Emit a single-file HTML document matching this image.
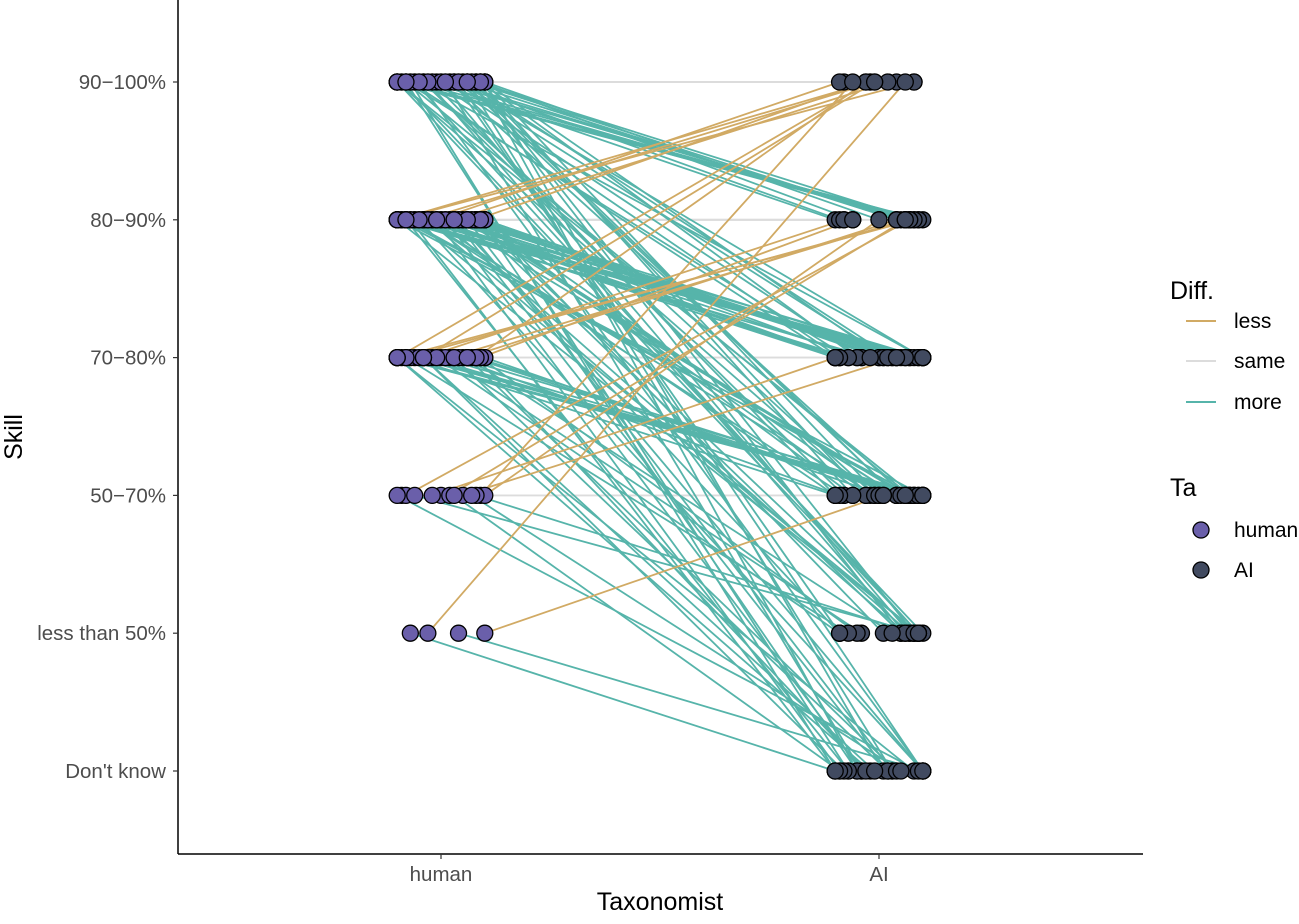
<!DOCTYPE html>
<html><head><meta charset="utf-8"><style>
body{margin:0;background:#fff;}
svg text{font-family:"Liberation Sans",sans-serif;}
</style></head><body>
<svg id="chart" width="1299" height="919" xmlns="http://www.w3.org/2000/svg">
<g id="lines"></g>
<g id="points"></g>
<g id="axes"></g>
</svg>
<script>
// Levels: 0=Don't know,1=less than 50%,2=50-70%,3=70-80%,4=80-90%,5=90-100%
const yLabels = ["Don't know","less than 50%","50\u221270%","70\u221280%","80\u221290%","90\u2212100%"];
const xLabels = ["human","AI"];
const fromLevel = [5,5,5,5,5,5, 4,4,4,4,4,4, 3,3,3,3,3,3, 2,2,2,2,2,2, 1,1,1];
const toLevel   = [5,4,3,2,1,0, 5,4,3,2,1,0, 5,4,3,2,1,0, 5,4,3,2,1,0, 5,2,0];
const pairCount = [3,14,10,12,8,8, 6,3,24,12,8,9, 3,6,3,12,5,7, 1,3,2,2,2,3, 1,1,2];
const jitterH = [-0.1,0.06,-0.04,0.09,-0.08,0.02,0.1,-0.02,0.05,-0.09,0.0,0.08,-0.06,0.03,-0.1,0.07,-0.03,0.1,-0.07,0.04,-0.05,0.01,0.09,-0.08,0.06,-0.01,0.03,-0.1,0.08,-0.04];
const jitterA = [0.08,-0.09,0.02,0.1,-0.05,0.06,-0.1,0.04,0.09,-0.02,0.07,-0.07,0.0,0.1,-0.08,0.05,-0.03,0.08,0.03,-0.1,0.1,-0.06,0.06,-0.01,0.09,-0.09,0.04,-0.04,0.07,0.01];

const L=178,R=1143,T=0,B=854;
const xS = i => 441 + i*438;
const dx = u => u*438;
const yS = v => 771 - v*137.8;
const svg = document.getElementById('chart');
const NS='http://www.w3.org/2000/svg';
function mk(tag,attrs,parent){const e=document.createElementNS(NS,tag);for(const k in attrs)e.setAttribute(k,attrs[k]);parent.appendChild(e);return e;}
const gL=document.getElementById('lines'),gP=document.getElementById('points'),gA=document.getElementById('axes');
const col={less:'#D1AA64',same:'#DCDCDC',more:'#56B4AA'};
let k=0; const hp=[],ap=[];
const pairsSame=[],pairsOther=[];
fromLevel.forEach((f,i)=>{for(let c=0;c<pairCount[i];c++){
  const p={f:f,t:toLevel[i],jh:jitterH[k%jitterH.length],ja:jitterA[(k*7)%jitterA.length]};k++;
  (f===toLevel[i]?pairsSame:pairsOther).push(p);}});
pairsSame.concat(pairsOther).forEach(p=>{
  const d=p.f-p.t; const c=d>0?col.more:(d<0?col.less:col.same);
  const x1=xS(0)+dx(p.jh),y1=yS(p.f),x2=xS(1)+dx(p.ja),y2=yS(p.t);
  const ln=mk('line',{x1:x1,y1:y1,x2:x2,y2:y2,stroke:c,'stroke-width':1.8},gL);
  
  
  hp.push([x1,y1]);ap.push([x2,y2]);
});
hp.forEach(p=>{const c=mk('circle',{cx:p[0],cy:p[1],r:8,fill:'#6A5FAA',stroke:'#000','stroke-width':1.3},gP);
  
  });
ap.forEach(p=>{const c=mk('circle',{cx:p[0],cy:p[1],r:8,fill:'#414A60',stroke:'#000','stroke-width':1.3},gP);
  
  });
// axes
mk('line',{x1:L,y1:T,x2:L,y2:B,stroke:'#000','stroke-width':1.5},gA);
mk('line',{x1:L,y1:B,x2:R,y2:B,stroke:'#000','stroke-width':1.5},gA);
yLabels.forEach((lab,i)=>{
  mk('line',{x1:L-5,y1:yS(i),x2:L,y2:yS(i),stroke:'#333','stroke-width':1.2},gA);
  const t=mk('text',{x:166,y:yS(i)+7,'text-anchor':'end','font-size':20.5,fill:'#4d4d4d'},gA);t.textContent=lab;
  
  
});
xLabels.forEach((lab,i)=>{
  mk('line',{x1:xS(i),y1:B,x2:xS(i),y2:B+5,stroke:'#333','stroke-width':1.2},gA);
  const t=mk('text',{x:xS(i),y:B+27,'text-anchor':'middle','font-size':20.5,fill:'#4d4d4d'},gA);t.textContent=lab;
  
  
});
let t=mk('text',{x:660,y:910,'text-anchor':'middle','font-size':25,fill:'#000'},gA);t.textContent='Taxonomist';


t=mk('text',{x:22,y:437,'text-anchor':'middle','font-size':25,fill:'#000',transform:'rotate(-90 22 437)'},gA);t.textContent='Skill';


// legend
const gLeg=mk('g',{},svg);


t=mk('text',{x:1170,y:299,'font-size':25},gLeg);t.textContent='Diff.';
[['less',col.less,321],['same',col.same,361],['more',col.more,402]].forEach(e=>{
  mk('line',{x1:1186,y1:e[2],x2:1216,y2:e[2],stroke:e[1],'stroke-width':2},gLeg);
  const tt=mk('text',{x:1234,y:e[2]+7,'font-size':21},gLeg);tt.textContent=e[0];
  
  
});
t=mk('text',{x:1170,y:496,'font-size':25},gLeg);t.textContent='Ta';
[['human','#6A5FAA',530],['AI','#414A60',570]].forEach(e=>{
  mk('circle',{cx:1201,cy:e[2],r:8,fill:e[1],stroke:'#000','stroke-width':1.3},gLeg);
  const tt=mk('text',{x:1234,y:e[2]+7,'font-size':21},gLeg);tt.textContent=e[0];
  
  
});
</script>
</body></html>
